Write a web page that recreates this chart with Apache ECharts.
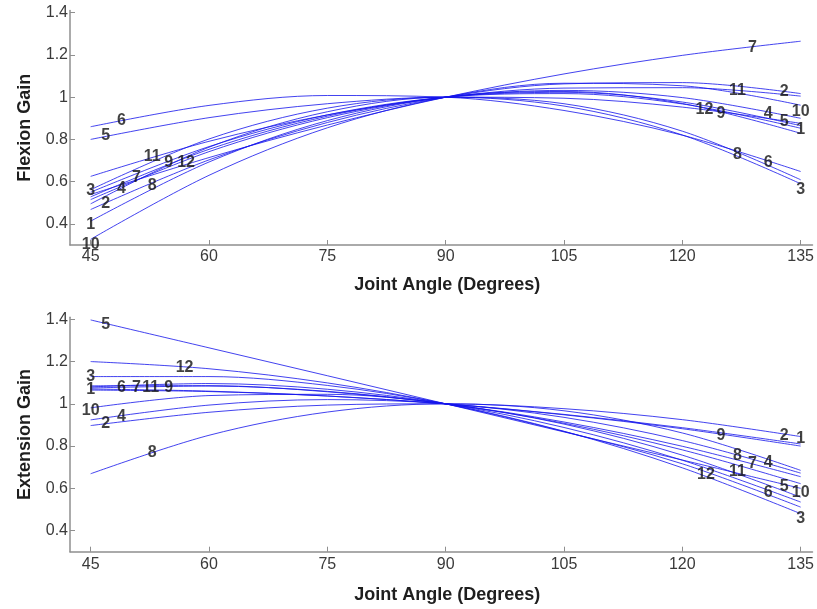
<!DOCTYPE html>
<html>
<head>
<meta charset="utf-8">
<script src="https://cdn.jsdelivr.net/npm/echarts@6/dist/echarts.min.js"></script>
<style>
html,body{margin:0;padding:0;background:#fff;}
#c{width:817px;height:609px;}
</style>
</head>
<body>
<div id="c"></div>
<script>
// Joint angles (degrees) at which curves are sampled
var angles = [45, 60, 75, 90, 105, 120, 135];
var xTicks = [45, 60, 75, 90, 105, 120, 135];
var yTicks = [0.4, 0.6, 0.8, 1, 1.2, 1.4];

// Flexion gain curves 1..12
var flex1  = [0.413, 0.693, 0.889, 1, 1.027, 0.970, 0.829];
var flex2  = [0.468, 0.703, 0.880, 1, 1.063, 1.069, 1.017];
var flex3  = [0.562, 0.802, 0.948, 1, 0.958, 0.821, 0.590];
var flex4  = [0.515, 0.742, 0.903, 1, 1.032, 0.998, 0.900];
var flex5  = [0.800, 0.903, 0.969, 1, 0.995, 0.953, 0.876];
var flex6  = [0.860, 0.961, 1.008, 1, 0.937, 0.820, 0.648];
var flex7  = [0.539, 0.714, 0.868, 1, 1.110, 1.198, 1.265];
var flex8  = [0.495, 0.763, 0.931, 1, 0.969, 0.839, 0.609];
var flex9  = [0.550, 0.766, 0.916, 1, 1.017, 0.968, 0.853];
var flex10 = [0.327, 0.630, 0.855, 1, 1.066, 1.054, 0.962];
var flex11 = [0.625, 0.791, 0.916, 1, 1.043, 1.045, 1.005];
var flex12 = [0.528, 0.753, 0.910, 1, 1.023, 0.977, 0.865];

// Extension gain curves 1..12
var ext1  = [1.065, 1.058, 1.037, 1, 0.948, 0.882, 0.800];
var ext2  = [0.897, 0.960, 0.994, 1, 0.977, 0.925, 0.845];
var ext3  = [1.129, 1.129, 1.087, 1, 0.870, 0.697, 0.480];
var ext4  = [0.924, 0.994, 1.020, 1, 0.936, 0.826, 0.672];
var ext5  = [1.397, 1.265, 1.133, 1, 0.867, 0.734, 0.600];
var ext6  = [1.080, 1.096, 1.069, 1, 0.888, 0.733, 0.535];
var ext7  = [1.085, 1.086, 1.057, 1, 0.914, 0.799, 0.655];
var ext8  = [0.669, 0.851, 0.961, 1, 0.967, 0.862, 0.685];
var ext9  = [1.070, 1.060, 1.037, 1, 0.950, 0.887, 0.810];
var ext10 = [0.981, 1.039, 1.045, 1, 0.904, 0.757, 0.558];
var ext11 = [1.075, 1.084, 1.059, 1, 0.908, 0.782, 0.622];
var ext12 = [1.200, 1.166, 1.099, 1, 0.869, 0.716, 0.511];

// Curve number labels: [angle, gain, text]
var flexLabels = [
  [48.9, 0.887, '6'], [46.9, 0.816, '5'], [52.8, 0.717, '11'], [54.9, 0.690, '9'],
  [57.1, 0.690, '12'], [45.0, 0.558, '3'], [48.9, 0.567, '4'], [50.8, 0.619, '7'],
  [52.8, 0.581, '8'], [46.9, 0.496, '2'], [45.0, 0.398, '1'], [45.0, 0.302, '10'],
  [128.9, 1.234, '7'], [132.9, 1.025, '2'], [127.0, 1.033, '11'], [135.0, 0.930, '10'],
  [130.9, 0.920, '4'], [132.9, 0.884, '5'], [135.0, 0.848, '1'], [122.8, 0.939, '12'],
  [124.9, 0.923, '9'], [127.0, 0.727, '8'], [130.9, 0.688, '6'], [135.0, 0.562, '3']
];
var extLabels = [
  [46.9, 1.375, '5'], [56.9, 1.173, '12'], [45.0, 1.129, '3'], [45.0, 1.066, '1'],
  [48.9, 1.076, '6'], [50.8, 1.076, '7'], [52.6, 1.076, '11'], [54.9, 1.076, '9'],
  [45.0, 0.968, '10'], [48.9, 0.940, '4'], [46.9, 0.905, '2'], [52.8, 0.771, '8'],
  [132.9, 0.850, '2'], [135.0, 0.835, '1'], [124.9, 0.850, '9'], [127.0, 0.756, '8'],
  [128.9, 0.719, '7'], [130.9, 0.724, '4'], [123.0, 0.666, '12'], [127.0, 0.677, '11'],
  [132.9, 0.606, '5'], [135.0, 0.582, '10'], [130.9, 0.582, '6'], [135.0, 0.456, '3']
];

var flexCurves = [flex1, flex2, flex3, flex4, flex5, flex6, flex7, flex8, flex9, flex10, flex11, flex12];
var extCurves = [ext1, ext2, ext3, ext4, ext5, ext6, ext7, ext8, ext9, ext10, ext11, ext12];

var lineColor = 'rgba(20,20,235,0.8)';
var axisColor = '#8f8f8f';
var fontFam = '"Liberation Sans", Arial, sans-serif';

function lineSeries(vals, idx, name) {
  return {
    type: 'line', name: name, xAxisIndex: idx, yAxisIndex: idx,
    data: angles.map(function (a, i) { return [a, vals[i]]; }),
    smooth: 0.333, symbol: 'none', silent: true,
    lineStyle: { color: lineColor, width: 1 }, z: 2
  };
}
function labelSeries(labels, idx) {
  return {
    type: 'scatter', xAxisIndex: idx, yAxisIndex: idx, symbolSize: 1,
    itemStyle: { color: 'rgba(0,0,0,0)' }, silent: true, z: 5,
    data: labels.map(function (l) { return { name: l[2], value: [l[0], l[1]] }; }),
    label: {
      show: true, position: 'inside', formatter: '{b}',
      color: '#111111', fontWeight: 'bold', fontSize: 16, fontFamily: fontFam
    }
  };
}
function xAx(idx, gap, margin) {
  return {
    type: 'value', gridIndex: idx, min: 42.38, max: 136.5,
    name: 'Joint Angle (Degrees)', nameLocation: 'middle', nameGap: gap,
    nameTextStyle: { color: '#1e1e1e', fontWeight: 'bold', fontSize: 18, fontFamily: fontFam, padding: [0, 0, 0, 12] },
    axisLine: { show: true, onZero: false, lineStyle: { color: axisColor, width: 1.5 } },
    axisTick: { show: true, inside: true, length: 5, customValues: xTicks, lineStyle: { color: axisColor } },
    axisLabel: { customValues: xTicks, color: '#3a3a3a', fontSize: 16, fontFamily: fontFam, margin: margin },
    splitLine: { show: false }
  };
}
function yAx(idx, name) {
  return {
    type: 'value', gridIndex: idx, min: 0.3, max: 1.41,
    name: name, nameLocation: 'middle', nameGap: 36, nameRotate: 90,
    nameTextStyle: { color: '#1e1e1e', fontWeight: 'bold', fontSize: 18, fontFamily: fontFam },
    axisLine: { show: true, onZero: false, lineStyle: { color: axisColor, width: 1.5 } },
    axisTick: { show: true, inside: true, length: 5, customValues: yTicks, lineStyle: { color: axisColor } },
    axisLabel: { customValues: yTicks, color: '#3a3a3a', fontSize: 16, fontFamily: fontFam, margin: 2 },
    splitLine: { show: false }
  };
}

var series = [];
flexCurves.forEach(function (c, i) { series.push(lineSeries(c, 0, 'F' + (i + 1))); });
extCurves.forEach(function (c, i) { series.push(lineSeries(c, 1, 'E' + (i + 1))); });
series.push(labelSeries(flexLabels, 0));
series.push(labelSeries(extLabels, 1));

var chart = echarts.init(document.getElementById('c'), null, { renderer: 'canvas' });
chart.setOption({
  animation: false,
  backgroundColor: '#ffffff',
  grid: [
    { left: 70, right: 2, top: 10.6, bottom: 364 },
    { left: 70, right: 2, top: 317.2, bottom: 57.3 }
  ],
  xAxis: [xAx(0, 31, 4), xAx(1, 34, 5)],
  yAxis: [yAx(0, 'Flexion Gain'), yAx(1, 'Extension Gain')],
  series: series
});
</script>
</body>
</html>
